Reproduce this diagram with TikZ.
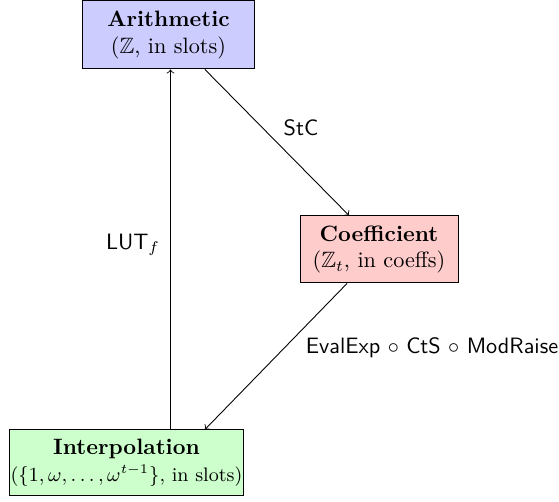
\documentclass[tikz,border=0pt]{standalone}
\usepackage{amssymb}
\begin{document}
\begin{tikzpicture}[x=0.45pt,y=-0.45pt,
  box/.style={draw=black,line width=0.45pt,rectangle,align=center,inner sep=0.5pt,font=\normalsize},
  lbl/.style={font=\sffamily,inner sep=0pt},
  arr/.style={->,line width=0.4pt}]
\useasboundingbox (0,0) rectangle (559,502);
\node[box,fill=blue!20,minimum width=76.95pt,minimum height=30.6pt] (arith) at (168.5,35) {\textbf{Arithmetic}\\($\mathbb{Z}$, in slots)};
\node[box,fill=red!20,minimum width=71.1pt,minimum height=30.15pt] (coef) at (379,249.5) {\textbf{Coefficient}\\($\mathbb{Z}_t$, in coeffs)};
\node[box,fill=green!20,minimum width=103.95pt,minimum height=29.7pt] (interp) at (126.5,463) {\textbf{Interpolation}\\{\fontsize{8.8}{11}\selectfont($\{1,\omega,\ldots,\omega^{t-1}\}$, in slots)}};
\coordinate (lutx) at (170.5,0);
\draw[arr] (interp.north -| lutx) -- (arith.south -| lutx);
\draw[arr] ([xshift=16.4pt]arith.south) -- ([xshift=-13.5pt]coef.north);
\draw[arr] ([xshift=-14.4pt]coef.south) -- ([xshift=35.3pt]interp.north);
\node[lbl] (stc) at (301,128) {StC};
\node[lbl] (lut) at (133,245) {LUT$_f$};
\node[lbl] (eval) at (432,348) {EvalExp $\circ$ CtS $\circ$ ModRaise};
\end{tikzpicture}
\end{document}
